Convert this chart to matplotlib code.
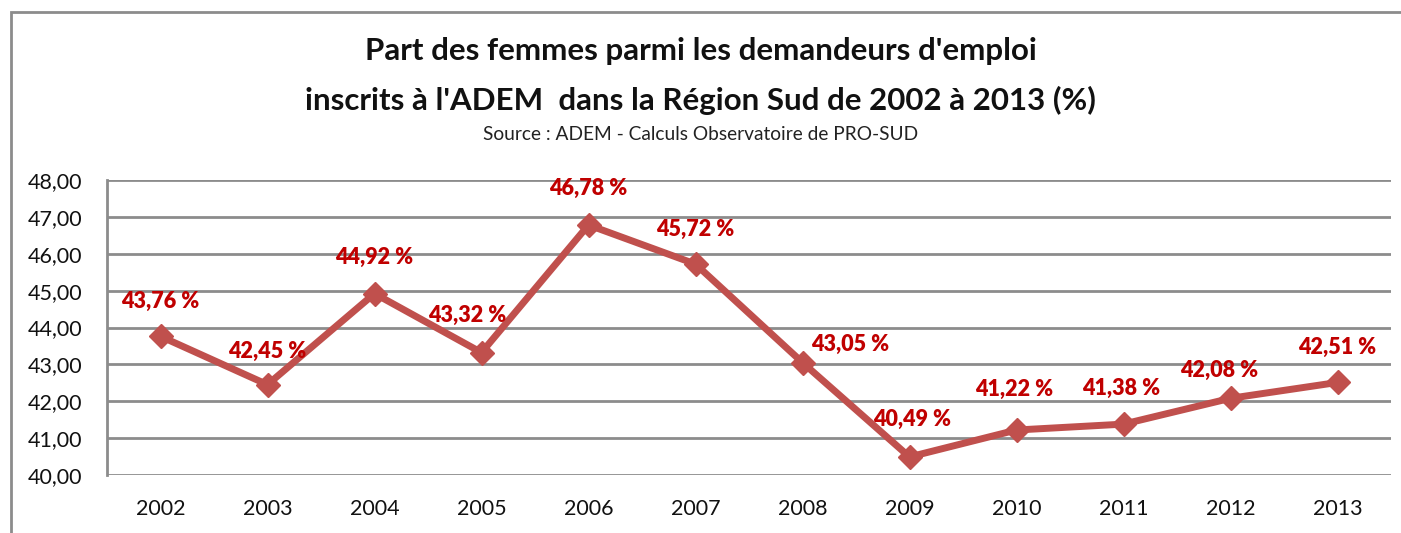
import matplotlib.pyplot as plt
from matplotlib.patches import Rectangle

# Data
years = ['2002', '2003', '2004', '2005', '2006', '2007', '2008', '2009', '2010', '2011', '2012', '2013']
share_women = [43.76, 42.45, 44.92, 43.32, 46.78, 45.72, 43.05, 40.49, 41.22, 41.38, 42.08, 42.51]
y_ticks = [40, 41, 42, 43, 44, 45, 46, 47, 48]

# label offsets in points (dx, dy), to keep labels clear of the line
label_offsets = [(0, 25), (0, 24), (0, 26), (-10, 27), (0, 26), (0, 25),
                 (34, 13), (2, 27), (-2, 29), (-2, 26), (-8, 20), (0, 25)]

plt.rcParams['font.family'] = ['Lato', 'DejaVu Sans']

fig = plt.figure(figsize=(14.01, 5.33), dpi=100)
W, H = 1401, 533

# outer chart frame (only top and left edges visible in the picture)
fig.add_artist(Rectangle((11 / W, -0.1), 1.2, 1 - 12 / H + 0.1, transform=fig.transFigure,
                         fill=False, edgecolor='#8c8c8c', linewidth=2))

ax = fig.add_axes([107 / W, 1 - 475 / H, (1391 - 107) / W, (475 - 180) / H])
x = list(range(len(years)))
ax.plot(x, share_women, color='#C0504D', linewidth=5, marker='D', markersize=12,
        markeredgecolor='#C0504D', zorder=3, solid_joinstyle='miter')

ax.set_xlim(-0.5, len(years) - 0.5)
ax.set_ylim(40, 48)
ax.set_yticks(y_ticks)
ax.set_yticklabels([f'{v:.2f}'.replace('.', ',') for v in y_ticks], fontsize=15.5, color='#111111')
ax.set_xticks(x)
ax.set_xticklabels(years, fontsize=15.5, color='#111111')
ax.tick_params(length=0)
ax.tick_params(axis='x', pad=17)
ax.tick_params(axis='y', pad=18)

ax.grid(axis='y', color='#8c8c8c', linewidth=2)
ax.set_axisbelow(True)
for side in ['top', 'right', 'bottom']:
    ax.spines[side].set_visible(False)
ax.spines['left'].set_color('#8c8c8c')
ax.spines['left'].set_linewidth(2)

for xi, v, (dx, dy) in zip(x, share_women, label_offsets):
    ax.annotate(f'{v:.2f} %'.replace('.', ','), (xi, v), xytext=(dx, dy),
                textcoords='offset points', ha='center', va='center',
                fontsize=15.5, fontweight='heavy', color='#C00000', zorder=4)

fig.text(0.5, 1 - 51 / H, "Part des femmes parmi les demandeurs d'emploi",
         ha='center', va='center', fontsize=22.5, fontweight='bold', color='#111111')
fig.text(0.5, 1 - 100 / H, "inscrits à l'ADEM  dans la Région Sud de 2002 à 2013 (%)",
         ha='center', va='center', fontsize=22.5, fontweight='bold', color='#111111')
fig.text(0.5, 1 - 134 / H, "Source : ADEM - Calculs Observatoire de PRO-SUD",
         ha='center', va='center', fontsize=13.8, color='#222222')

fig.savefig('out.png', dpi=100)
